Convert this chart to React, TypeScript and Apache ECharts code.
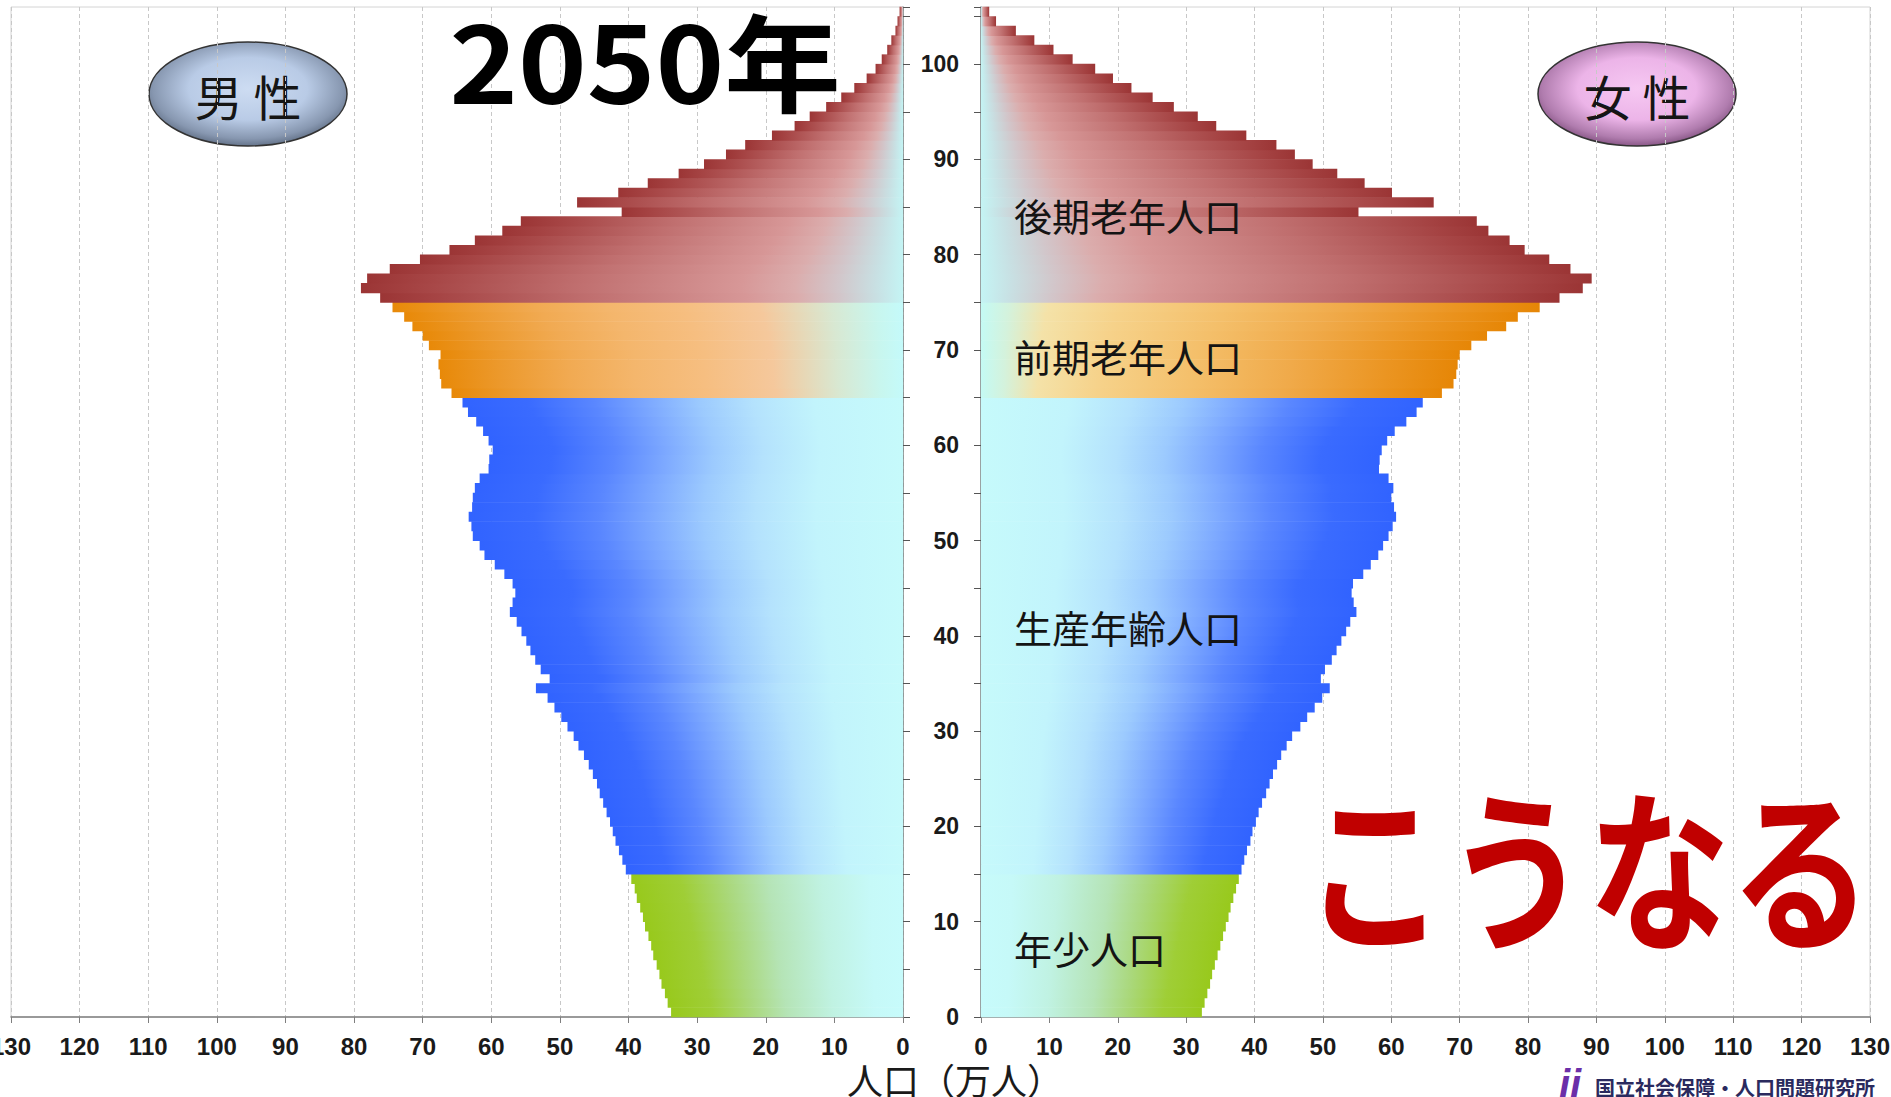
import React, { useEffect, useRef } from "react";
import * as echarts from "echarts";

// Population (万人) by single year of age, index = age (0..105)
const MALE: number[] = [
  33.8, 34.3, 34.7, 35.2, 35.5, 35.9, 36.4, 36.7, 37.1, 37.6,
  37.9, 38.3, 38.8, 39.1, 39.6, 40.4, 40.9, 41.4, 41.9, 42.3,
  42.7, 43.2, 43.7, 44.2, 44.6, 45.2, 45.8, 46.5, 47.3, 48.0,
  48.9, 49.8, 50.8, 51.8, 53.5, 51.5, 52.8, 53.6, 54.3, 54.9,
  55.6, 56.3, 57.3, 56.9, 56.5, 56.9, 58.1, 59.5, 61.0, 61.7,
  62.7, 62.9, 63.3, 62.8, 62.7, 62.4, 61.7, 60.4, 60.3, 59.8,
  60.4, 61.2, 62.2, 63.4, 64.2, 65.8, 67.3, 67.5, 67.7, 67.4,
  69.1, 70.0, 71.5, 72.7, 74.4, 76.2, 79.0, 78.1, 74.8, 70.4,
  66.1, 62.4, 58.4, 55.7, 41.0, 47.5, 41.5, 37.2, 32.7, 29.0,
  25.8, 23.0, 19.1, 15.8, 13.6, 11.2, 9.0, 7.1, 5.3, 4.0,
  3.1, 2.3, 1.7, 1.1, 0.8, 0.5,
];
const FEMALE: number[] = [
  32.3, 32.7, 33.1, 33.5, 33.8, 34.2, 34.6, 35.0, 35.4, 35.8,
  36.2, 36.5, 36.9, 37.3, 37.7, 38.1, 38.5, 38.9, 39.4, 39.7,
  40.2, 40.6, 41.1, 41.7, 42.2, 42.7, 43.3, 43.9, 44.7, 45.5,
  46.7, 47.7, 48.8, 49.9, 51.0, 49.7, 50.3, 51.3, 52.0, 52.7,
  53.4, 54.0, 54.9, 54.5, 54.2, 54.4, 55.9, 57.0, 58.1, 58.8,
  59.6, 60.2, 60.7, 60.4, 60.0, 60.3, 59.6, 58.2, 58.3, 58.6,
  59.4, 60.5, 62.2, 63.7, 64.6, 67.4, 69.1, 69.5, 69.7, 70.0,
  71.7, 74.0, 76.8, 78.5, 81.7, 84.6, 88.0, 89.3, 86.2, 83.1,
  79.5, 77.3, 74.2, 72.5, 55.2, 66.2, 60.1, 56.1, 52.1, 48.5,
  45.9, 43.2, 38.8, 34.4, 31.7, 28.2, 25.1, 22.0, 19.3, 16.7,
  13.4, 10.6, 7.8, 5.1, 2.2, 1.2,
];

// first age of each group: 年少 / 生産年齢 / 前期老年 / 後期老年
const GROUP_START: number[] = [0, 15, 65, 75];
const GROUP_LABELS: string[] = ["年少人口", "生産年齢人口", "前期老年人口", "後期老年人口"];
const X_MAX = 130;
const X_STEP = 10;
const Y_MAX = 106;
const Y_STEP = 5;

type Stop = [number, string];
// offset 0 = outer end of bar, 1 = at the axis
const GREEN: Stop[] = [[0, "#98c91c"], [0.18, "#9fce36"], [0.35, "#aad87c"], [0.5, "#b5e4b6"], [0.7, "#c0f2e2"], [0.88, "#c6f9f8"], [1, "#c7fbfb"]];
const BLUE: Stop[] = [[0, "#3163ff"], [0.15, "#3a6bff"], [0.3, "#5a87ff"], [0.42, "#7ca8ff"], [0.54, "#9ccafe"], [0.66, "#b4e2fd"], [0.8, "#c2f4fc"], [1, "#c6fafb"]];
const ORANGE_M: Stop[] = [[0, "#e88908"], [0.13, "#ec992c"], [0.28, "#f1aa52"], [0.42, "#f4b66c"], [0.57, "#f6be80"], [0.72, "#f5c89c"], [0.86, "#d8e8d2"], [0.95, "#c8f6ee"], [1, "#c4fafa"]];
const ORANGE_F: Stop[] = [[0, "#e68606"], [0.15, "#eb9522"], [0.35, "#f0aa4a"], [0.55, "#f4bf6a"], [0.75, "#f6d28a"], [0.88, "#f4e2a8"], [0.95, "#d4f2dc"], [1, "#c4faf4"]];
const RED: Stop[] = [[0, "#9b3535"], [0.1, "#a54343"], [0.25, "#b25959"], [0.4, "#c06f6f"], [0.55, "#cb8383"], [0.7, "#d79797"], [0.8, "#dbadad"], [0.88, "#d2c6ca"], [0.95, "#c8e0e3"], [1, "#c4f4f4"]];

const STOPS: Record<string, Stop[][]> = {
  male: [GREEN, BLUE, ORANGE_M, RED],
  female: [GREEN, BLUE, ORANGE_F, RED],
};

function groupOf(age: number): number {
  let g = 0;
  for (let i = 0; i < GROUP_START.length; i++) if (age >= GROUP_START[i]) g = i;
  return g;
}

function gradientFor(side: string, age: number) {
  const stops = STOPS[side][groupOf(age)].map(([offset, color]) => ({ offset, color }));
  return side === "male"
    ? new echarts.graphic.LinearGradient(0, 0, 1, 0, stops)
    : new echarts.graphic.LinearGradient(1, 0, 0, 0, stops);
}

const makeRender = (side: string) => (_params: any, api: any) => {
  const v = api.value(0);
  const age = api.value(1);
  const a = api.coord([0, age]);
  const b = api.coord([v, age + 1]);
  const x = Math.min(a[0], b[0]);
  const w = Math.abs(a[0] - b[0]);
  return {
    type: "rect",
    shape: { x, y: b[1] - 0.3, width: w, height: a[1] - b[1] + 0.6 },
    style: { fill: gradientFor(side, age) },
  };
};

const NUM_FONT = "'Liberation Sans', Arial, sans-serif";
const JP_FONT = "'Noto Sans CJK JP', 'Noto Sans', sans-serif";

function xAxisCfg(gridIndex: number, inverse: boolean) {
  return {
    gridIndex,
    type: "value",
    min: 0,
    max: X_MAX,
    interval: X_STEP,
    inverse,
    axisLine: { show: true, lineStyle: { color: "#7f7f7f", width: 1.5 } },
    axisTick: { show: true, length: 6, lineStyle: { color: "#7f7f7f" } },
    axisLabel: { margin: 17, fontSize: 24, fontWeight: "bold", color: "#1a1a1a", fontFamily: NUM_FONT },
    splitLine: { show: true, lineStyle: { color: "#c8c8c8", type: [4, 3], width: 1 } },
  };
}

export default function App() {
  const ref = useRef<HTMLDivElement>(null);
  useEffect(() => {
    if (!ref.current) return;
    const chart = echarts.init(ref.current, undefined, { renderer: "svg" });
    const ellipse = (cx: number, cy: number, text: string, stops: Stop[]) => ({
      type: "group",
      z: 100,
      children: [
        {
          type: "ellipse",
          shape: { cx, cy, rx: 99, ry: 52 },
          style: {
            fill: new echarts.graphic.RadialGradient(0.5, 0.45, 0.6, stops.map(([offset, color]) => ({ offset, color }))),
            stroke: "#333",
            lineWidth: 1.5,
          },
        },
        {
          type: "text",
          x: cx,
          y: cy + 1,
          style: { text, fontSize: 48, fontFamily: JP_FONT, fill: "#151515", align: "center", verticalAlign: "middle" },
        },
      ],
    });
    const groupLabelY = [947, 626, 355, 214];
    chart.setOption({
      animation: false,
      grid: [
        { left: 11, right: 988, top: 7, bottom: 80, show: true, borderColor: "#d4d4d4", borderWidth: 1, outerBoundsMode: "none", containLabel: false },
        { left: 981, right: 21, top: 7, bottom: 80, show: true, borderColor: "#d4d4d4", borderWidth: 1, outerBoundsMode: "none", containLabel: false },
      ],
      xAxis: [xAxisCfg(0, true), xAxisCfg(1, false)],
      yAxis: [
        {
          gridIndex: 0,
          type: "value",
          min: 0,
          max: Y_MAX,
          interval: Y_STEP,
          position: "right",
          axisLine: { show: true, lineStyle: { color: "#7f8a8a", width: 1.5 } },
          axisTick: { show: true, length: 7, lineStyle: { color: "#555" } },
          axisLabel: { show: false },
          splitLine: { show: false },
        },
        {
          gridIndex: 1,
          type: "value",
          min: 0,
          max: Y_MAX,
          interval: Y_STEP,
          position: "left",
          axisLine: { show: true, lineStyle: { color: "#7f8a8a", width: 1.5 } },
          axisTick: { show: true, length: 7, lineStyle: { color: "#555" } },
          axisLabel: {
            show: true,
            margin: 22,
            fontSize: 23,
            fontWeight: "bold",
            color: "#1a1a1a",
            fontFamily: NUM_FONT,
            padding: [0, 0, 18, 0],
            formatter: (v: number) => (v % 10 === 0 ? String(v) : ""),
          },
          splitLine: { show: false },
        },
      ],
      series: [
        {
          type: "custom",
          name: "男性",
          xAxisIndex: 0,
          yAxisIndex: 0,
          renderItem: makeRender("male"),
          data: MALE.map((v, i) => [v, i]),
          encode: { x: 0, y: 1 },
        },
        {
          type: "custom",
          name: "女性",
          xAxisIndex: 1,
          yAxisIndex: 1,
          renderItem: makeRender("female"),
          data: FEMALE.map((v, i) => [v, i]),
          encode: { x: 0, y: 1 },
        },
      ],
      graphic: [
        {
          type: "text",
          z: 100,
          x: 645,
          y: 58,
          scaleX: 1.1,
          style: { text: "2050年", fontSize: 106, fontWeight: "bold", fontFamily: JP_FONT, fill: "#000", align: "center", verticalAlign: "middle" },
        },
        {
          type: "text",
          z: 100,
          x: 1588,
          y: 862,
          scaleY: 1.22,
          style: { text: "こうなる", fontSize: 142, fontWeight: "bold", fontFamily: JP_FONT, fill: "#c00000", align: "center", verticalAlign: "middle" },
        },
        ...GROUP_LABELS.map((t, i) => ({
          type: "text",
          z: 100,
          x: 1014,
          y: groupLabelY[i],
          style: { text: t, fontSize: 38, fontFamily: JP_FONT, fill: "#141414", align: "left", verticalAlign: "middle" },
        })),
        ellipse(248, 94, "男 性", [[0, "#cddcf2"], [0.5, "#b9cbe6"], [0.8, "#8797b0"], [1, "#4d5b70"]]),
        ellipse(1637, 94, "女 性", [[0, "#f6c8f2"], [0.5, "#ecb4e8"], [0.8, "#b07cae"], [1, "#6e3e6c"]]),
        {
          type: "text",
          z: 100,
          x: 955,
          y: 1079,
          style: { text: "人口（万人）", fontSize: 36, fontFamily: JP_FONT, fill: "#1a1a1a", align: "center", verticalAlign: "middle" },
        },
        {
          type: "text",
          z: 100,
          x: 1570,
          y: 1084,
          style: { text: "ii", fontSize: 40, fontStyle: "italic", fontWeight: "bold", fontFamily: NUM_FONT, fill: "#6b2fa8", align: "center", verticalAlign: "middle" },
        },
        {
          type: "text",
          z: 100,
          x: 1595,
          y: 1087,
          style: { text: "国立社会保障・人口問題研究所", fontSize: 20, fontWeight: "bold", fontFamily: JP_FONT, fill: "#2a2a5e", align: "left", verticalAlign: "middle" },
        },
      ],
    });
    return () => chart.dispose();
  }, []);
  return (
    <div
      ref={ref}
      style={{ position: "fixed", left: 0, top: 0, width: 1891, height: 1097, background: "#fff" }}
    />
  );
}
